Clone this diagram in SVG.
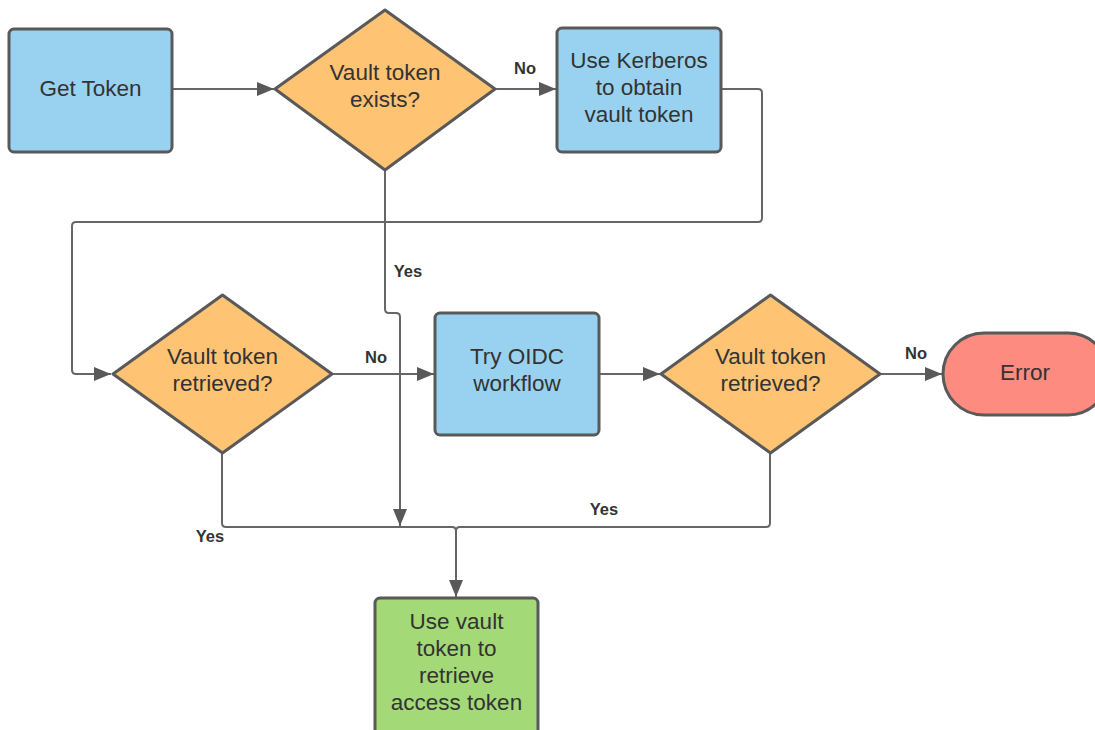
<svg xmlns="http://www.w3.org/2000/svg" width="1095" height="730" viewBox="0 0 1095 730">
<style>
.box{stroke:#595959;stroke-width:3;stroke-linejoin:round}
.blue{fill:#99d2f1}
.orange{fill:#fec373}
.red{fill:#fe8b80}
.green{fill:#a3d977}
.t{font-family:"Liberation Sans",Arial,sans-serif;font-size:22.5px;fill:#333;text-anchor:middle}
.lbl{font-family:"Liberation Sans",Arial,sans-serif;font-size:16.5px;font-weight:bold;fill:#333;text-anchor:middle}
.c{fill:none;stroke:#666;stroke-width:2}
</style>
<defs>
<marker id="arr" markerUnits="userSpaceOnUse" markerWidth="18" markerHeight="14" refX="17" refY="7" orient="auto">
<path d="M0,0 L17,7 L0,14 Z" fill="#595959"/>
</marker>
</defs>
<rect width="1095" height="730" fill="#fff"/>
<g id="connectors">
<path class="c" d="M172 89 H274" marker-end="url(#arr)"/>
<path class="c" d="M495 89 H556" marker-end="url(#arr)"/>
<path class="c" d="M721 89 H758 q4 0 4 4 V218 q0 4 -4 4 H76 q-4 0 -4 4 V370 q0 4 4 4 H111" marker-end="url(#arr)"/>
<path class="c" d="M332 374 H434" marker-end="url(#arr)"/>
<path class="c" d="M599 374 H660" marker-end="url(#arr)"/>
<path class="c" d="M880 374 H942" marker-end="url(#arr)"/>
<path class="c" d="M385 170 V309 q0 4 4 4 H396 q4 0 4 4 V526" marker-end="url(#arr)"/>
<path class="c" d="M222 453 V523 q0 4 4 4 H452 q4 0 4 4 V597" marker-end="url(#arr)"/>
<path class="c" d="M770 453 V523 q0 4 -4 4 H460 q-4 0 -4 4"/>
<text class="lbl" x="525" y="74">No</text>
<text class="lbl" x="408" y="277">Yes</text>
<text class="lbl" x="376" y="363">No</text>
<text class="lbl" x="916" y="359">No</text>
<text class="lbl" x="604" y="515">Yes</text>
<text class="lbl" x="210" y="542">Yes</text>
</g>
<g id="get-token">
<rect class="box blue" x="9" y="29" width="163" height="123" rx="5"/>
<text class="t" x="90.5" y="96">Get Token</text>
</g>
<g id="vault-token-exists">
<path class="box orange" d="M385 10 L495 89 L385 170 L275 89 Z"/>
<text class="t" x="385" y="80">Vault token</text>
<text class="t" x="385" y="107">exists?</text>
</g>
<g id="kerberos">
<rect class="box blue" x="557" y="28" width="164" height="124" rx="5"/>
<text class="t" x="639" y="68">Use Kerberos</text>
<text class="t" x="639" y="95">to obtain</text>
<text class="t" x="639" y="122">vault token</text>
</g>
<g id="vault-token-retrieved-1">
<path class="box orange" d="M222.5 295 L332 374 L222.5 453 L113 374 Z"/>
<text class="t" x="222.5" y="364">Vault token</text>
<text class="t" x="222.5" y="391">retrieved?</text>
</g>
<g id="try-oidc">
<rect class="box blue" x="435" y="313" width="164" height="122" rx="5"/>
<text class="t" x="517" y="364">Try OIDC</text>
<text class="t" x="517" y="391">workflow</text>
</g>
<g id="vault-token-retrieved-2">
<path class="box orange" d="M770.5 295 L880 374 L770.5 453 L661 374 Z"/>
<text class="t" x="770.5" y="364">Vault token</text>
<text class="t" x="770.5" y="391">retrieved?</text>
</g>
<g id="error">
<rect class="box red" x="943" y="333" width="166" height="82" rx="41"/>
<text class="t" x="1025" y="380">Error</text>
</g>
<g id="use-vault-token">
<rect class="box green" x="375" y="598" width="163" height="140" rx="5"/>
<text class="t" x="456.5" y="629">Use vault</text>
<text class="t" x="456.5" y="656">token to</text>
<text class="t" x="456.5" y="683">retrieve</text>
<text class="t" x="456.5" y="710">access token</text>
</g>
</svg>
